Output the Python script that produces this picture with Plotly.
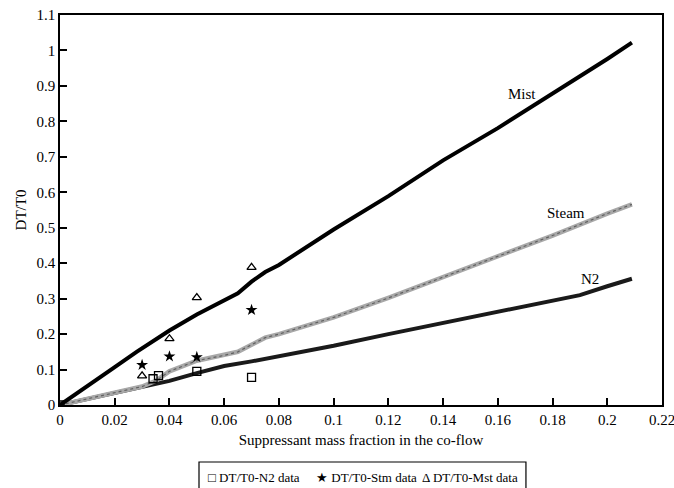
import plotly.graph_objects as go

# Model curves
mist_x = [0, 0.01, 0.02, 0.028, 0.03, 0.04, 0.05, 0.06, 0.065, 0.07, 0.075, 0.08, 0.1, 0.12, 0.14, 0.16, 0.18, 0.2, 0.209]
mist_y = [0, 0.055, 0.107, 0.15, 0.16, 0.21, 0.255, 0.295, 0.315, 0.348, 0.375, 0.395, 0.495, 0.589, 0.69, 0.781, 0.878, 0.976, 1.022]

steam_x = [0, 0.01, 0.02, 0.03, 0.035, 0.04, 0.05, 0.06, 0.065, 0.07, 0.075, 0.08, 0.1, 0.12, 0.14, 0.16, 0.18, 0.2, 0.209]
steam_y = [0, 0.018, 0.035, 0.052, 0.068, 0.095, 0.125, 0.14, 0.15, 0.17, 0.19, 0.2, 0.247, 0.302, 0.36, 0.418, 0.478, 0.54, 0.566]

n2_x = [0, 0.015, 0.03, 0.035, 0.04, 0.05, 0.06, 0.07, 0.08, 0.1, 0.12, 0.14, 0.16, 0.18, 0.19, 0.2, 0.209]
n2_y = [0, 0.025, 0.05, 0.058, 0.068, 0.09, 0.11, 0.123, 0.138, 0.167, 0.2, 0.232, 0.264, 0.295, 0.31, 0.335, 0.356]

# Experimental data
n2_data_x = [0, 0.034, 0.036, 0.05, 0.07]
n2_data_y = [0, 0.074, 0.083, 0.095, 0.078]
stm_data_x = [0.03, 0.04, 0.05, 0.07]
stm_data_y = [0.113, 0.137, 0.135, 0.268]
mst_data_x = [0.03, 0.04, 0.05, 0.07]
mst_data_y = [0.082, 0.187, 0.303, 0.388]

x_ticks = [0, 0.02, 0.04, 0.06, 0.08, 0.1, 0.12, 0.14, 0.16, 0.18, 0.2, 0.22]
x_tick_labels = ["0", "0.02", "0.04", "0.06", "0.08", "0.1", "0.12", "0.14", "0.16", "0.18", "0.2", "0.22"]
y_ticks = [0, 0.1, 0.2, 0.3, 0.4, 0.5, 0.6, 0.7, 0.8, 0.9, 1, 1.1]
y_tick_labels = ["0", "0.1", "0.2", "0.3", "0.4", "0.5", "0.6", "0.7", "0.8", "0.9", "1", "1.1"]

curve_labels = ["Mist", "Steam", "N2"]
label_x = [0.1687, 0.185, 0.1937]
label_y = [0.877, 0.542, 0.355]

legend_labels = ["\u25a1 DT/T0-N2 data", "\u2605 DT/T0-Stm data", "\u0394 DT/T0-Mst data"]
legend_pos = [0.2425, 0.4225, 0.5985]

FONT = "Liberation Serif, Times New Roman, serif"

fig = go.Figure()
fig.add_trace(go.Scatter(x=n2_x, y=n2_y, mode="lines", line=dict(color="#1a1a1a", width=4), showlegend=False))
fig.add_trace(go.Scatter(x=steam_x, y=steam_y, mode="lines", line=dict(color="#a8a8a8", width=4.5), showlegend=False))
fig.add_trace(go.Scatter(x=steam_x, y=steam_y, mode="lines", line=dict(color="#606060", width=1.2, dash="dot"), showlegend=False))
fig.add_trace(go.Scatter(x=mist_x, y=mist_y, mode="lines", line=dict(color="black", width=4), showlegend=False))

fig.add_trace(go.Scatter(x=n2_data_x, y=n2_data_y, mode="markers", name="DT/T0-N2 data", showlegend=False,
                         marker=dict(symbol="square-open", size=8, color="black", line=dict(width=1.3))))
fig.add_trace(go.Scatter(x=stm_data_x, y=stm_data_y, mode="markers", name="DT/T0-Stm data", showlegend=False,
                         marker=dict(symbol="star", size=9, color="black")))
fig.add_trace(go.Scatter(x=mst_data_x, y=mst_data_y, mode="markers", name="DT/T0-Mst data", showlegend=False,
                         marker=dict(symbol="triangle-up-open", size=8, color="black", line=dict(width=1.3))))

for t, lx, ly in zip(curve_labels, label_x, label_y):
    fig.add_annotation(x=lx, y=ly, text=t, showarrow=False, font=dict(family=FONT, size=15, color="black"))

# legend box (drawn manually, bottom cut by page edge as in the reference)
fig.add_shape(type="rect", xref="paper", yref="paper", x0=0.2309, x1=0.774, y0=-0.1462, y1=-0.25,
              line=dict(color="black", width=1.2), fillcolor="rgba(0,0,0,0)")
for t, lx in zip(legend_labels, legend_pos):
    fig.add_annotation(xref="paper", yref="paper", x=lx, y=-0.187, xanchor="left", yanchor="middle",
                       text=t, showarrow=False, font=dict(family=FONT, size=13, color="black"))

fig.update_layout(
    width=674, height=488,
    margin=dict(l=60, r=12, t=15, b=83, autoexpand=False),
    paper_bgcolor="white", plot_bgcolor="white",
    font=dict(family=FONT, size=15, color="black"),
    showlegend=False,
)
fig.update_xaxes(range=[0, 0.22], tickvals=x_ticks, ticktext=x_tick_labels, automargin=False,
                 showgrid=False, zeroline=False, showline=True, linecolor="black", linewidth=1.5, mirror=True,
                 ticks="inside", ticklen=7, tickwidth=1.5, tickcolor="black", ticklabeloverflow="allow",
                 title=dict(text="Suppressant mass fraction in the co-flow", font=dict(size=15), standoff=8))
fig.update_yaxes(range=[0, 1.1], tickvals=y_ticks, ticktext=y_tick_labels, automargin=False,
                 showgrid=False, zeroline=False, showline=True, linecolor="black", linewidth=1.5, mirror=True,
                 ticks="inside", ticklen=7, tickwidth=1.5, tickcolor="black",
                 title=dict(text="DT/T0", font=dict(size=15), standoff=6))

fig.write_html("out.html", config={"displayModeBar": False},
               post_script="document.body.style.margin='0px';document.body.style.overflow='hidden';")
